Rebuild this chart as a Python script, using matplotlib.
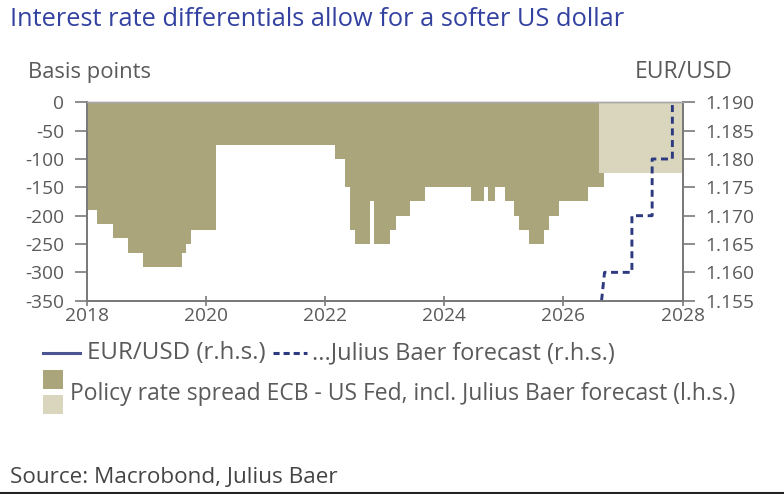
import matplotlib
matplotlib.use("Agg")
import matplotlib.pyplot as plt
from matplotlib.lines import Line2D
from matplotlib.patches import Rectangle

# ---------------- data ----------------
spread_dates = [2018.0, 2018.16, 2018.43, 2018.68, 2018.93, 2019.59, 2019.66, 2019.75,
                2020.17, 2022.17, 2022.33, 2022.42, 2022.49, 2022.75, 2022.82, 2023.09,
                2023.18, 2023.43, 2023.68, 2024.44, 2024.66, 2024.73, 2024.85, 2025.01,
                2025.17, 2025.25, 2025.42, 2025.67, 2025.75, 2025.92, 2026.42, 2026.68]
spread_values = [-190, -215, -240, -265, -290, -265, -250, -225,
                 -75, -100, -150, -225, -250, -175, -250, -225,
                 -200, -175, -150, -175, -150, -175, -150, -175,
                 -200, -225, -250, -225, -200, -175, -150, -150]

forecast_dates = [2026.59, 2028.0]
forecast_values = [-125, -125]

eur_fc_dates = [2026.64, 2026.69, 2027.15, 2027.15, 2027.49, 2027.49, 2027.83, 2027.83]
eur_fc_values = [1.155, 1.160, 1.160, 1.170, 1.170, 1.180, 1.180, 1.190]

left_ticks = [0, -50, -100, -150, -200, -250, -300, -350]
right_ticks = [1.155, 1.160, 1.165, 1.170, 1.175, 1.180, 1.185, 1.190]
x_ticks = [2018, 2020, 2022, 2024, 2026, 2028]

title = "Interest rate differentials allow for a softer US dollar"
legend1a = "EUR/USD (r.h.s.)"
legend1b = "...Julius Baer forecast (r.h.s.)"
legend2 = "Policy rate spread ECB - US Fed, incl. Julius Baer forecast (l.h.s.)"
source = "Source: Macrobond, Julius Baer"

# ---------------- style ----------------
W, H = 784, 494
plt.rcParams['font.family'] = ['Open Sans', 'DejaVu Sans']
TXT = "#5a5a5a"
BLUE = "#3342a0"
DARK = "#aba57b"
LIGHT = "#d9d6bd"
NAVY = "#2e3a80"
SPINE = "#7a7a7a"
FS = 16.2

def fx(x):
    return x / W

def fy(y):
    return 1 - y / H

fig = plt.figure(figsize=(W / 100, H / 100), dpi=100)
fig.patch.set_facecolor("white")

x0, x1 = 87.3, 682.5
y0, y1 = 102.3, 300.7
ax = fig.add_axes([fx(x0), fy(y1), fx(x1) - fx(x0), fy(y0) - fy(y1)])
ax.set_facecolor("none")

ax.fill_between(spread_dates, spread_values, 0, step="post", color=DARK, lw=0)
ax.fill_between(forecast_dates, forecast_values, 0, step="post", color=LIGHT, lw=0)

ax.set_xlim(2018, 2028)
ax.set_ylim(-350, 0)
ax.set_xticks(x_ticks)
ax.set_xticklabels([str(t) for t in x_ticks])
ax.set_yticks(left_ticks)
ax.set_yticklabels([str(t) for t in left_ticks])

ax2 = ax.twinx()
ax2.plot(eur_fc_dates, eur_fc_values, color=NAVY, lw=2.1,
         linestyle=(0, (2.4, 1.6)), clip_on=False)
ax2.set_ylim(1.155, 1.190)
ax2.set_yticks(right_ticks)
ax2.set_yticklabels([f"{t:.3f}" for t in right_ticks])

for a in (ax, ax2):
    for s in a.spines.values():
        s.set_color(SPINE)
        s.set_linewidth(1.4)
    a.spines['top'].set_color("#a8a8a8")
    a.spines['top'].set_linewidth(1.0)

TFS = 13.8
ax.tick_params(axis='y', direction='out', length=8.5, width=1.2, color=SPINE,
               labelsize=TFS, labelcolor=TXT, pad=8)
ax.tick_params(axis='x', direction='inout', length=7, width=1.2, color=SPINE,
               labelsize=TFS, labelcolor=TXT, pad=1)
ax2.tick_params(axis='y', direction='out', length=8.5, width=1.2, color=SPINE,
                labelsize=TFS, labelcolor=TXT, pad=8)

# texts
fig.text(fx(10), fy(19), title, color=BLUE, fontsize=18.3, ha='left', va='center')
fig.text(fx(28), fy(72), "Basis points", color=TXT, fontsize=15.8, ha='left', va='center')
fig.text(fx(733), fy(72), "EUR/USD", color=TXT, fontsize=16.5, ha='right', va='center')

# legend row 1
fig.add_artist(Line2D([fx(43), fx(80)], [fy(353), fy(353)], color="#4a5592", lw=2.2))
fig.text(fx(87), fy(353), legend1a, color=TXT, fontsize=17.4, ha='left', va='center')
fig.add_artist(Line2D([fx(273), fx(307)], [fy(353), fy(353)], color=NAVY, lw=2.2,
                      linestyle=(0, (2.0, 1.3))))
fig.text(fx(312), fy(353), legend1b, color=TXT, fontsize=16.9, ha='left', va='center')

# legend row 2
fig.add_artist(Rectangle((fx(43), fy(389)), fx(63) - fx(43), fy(370) - fy(389),
                         transform=fig.transFigure, color=DARK, lw=0))
fig.add_artist(Rectangle((fx(43), fy(414)), fx(63) - fx(43), fy(395) - fy(414),
                         transform=fig.transFigure, color=LIGHT, lw=0))
fig.text(fx(70), fy(394), legend2, color=TXT, fontsize=16.5, ha='left', va='center')

fig.text(fx(10), fy(477), source, color="#444444", fontsize=FS, ha='left', va='center')
fig.add_artist(Line2D([0, 1], [fy(493), fy(493)], color="#222222", lw=1.5))

fig.savefig("out.png", dpi=100)
